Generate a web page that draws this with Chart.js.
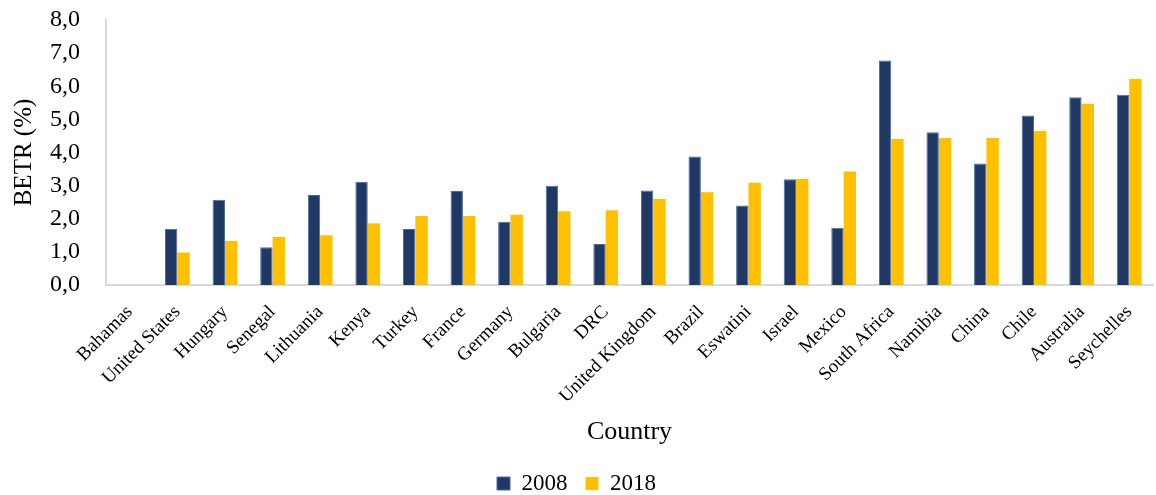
<!DOCTYPE html>
<html lang="en">
<head>
    <meta charset="UTF-8">
    <title>BETR 2008 vs 2018</title>
    <style>
        html, body {
            margin: 0;
            padding: 0;
            background-color: #ffffff;
        }
        .container {
            width: 1156px;
            height: 495px;
        }
    </style>
</head>
<body>
    <div class="container">
        <canvas id="myChart" width="1156" height="495"></canvas>
    </div>

    <script src="https://cdn.jsdelivr.net/npm/chart.js"></script>
    <script>
        var countries = ['Bahamas', 'United States', 'Hungary', 'Senegal', 'Lithuania', 'Kenya', 'Turkey',
            'France', 'Germany', 'Bulgaria', 'DRC', 'United Kingdom', 'Brazil', 'Eswatini', 'Israel',
            'Mexico', 'South Africa', 'Namibia', 'China', 'Chile', 'Australia', 'Seychelles'];
        var betr2008 = [0, 1.70, 2.57, 1.14, 2.72, 3.12, 1.69, 2.84, 1.91, 3.00, 1.24, 2.85, 3.88, 2.40,
            3.19, 1.73, 6.78, 4.61, 3.67, 5.12, 5.67, 5.74];
        var betr2018 = [0, 0.98, 1.33, 1.45, 1.50, 1.86, 2.08, 2.08, 2.12, 2.23, 2.26, 2.60, 2.80, 3.09,
            3.20, 3.43, 4.41, 4.44, 4.44, 4.65, 5.47, 6.22];
        var yTicks = [0, 1, 2, 3, 4, 5, 6, 7, 8];

        var serif = '"Liberation Serif", "Times New Roman", serif';

        document.addEventListener('DOMContentLoaded', function () {
            Chart.defaults.font.family = serif;
            Chart.defaults.color = '#000000';

            var myChart = new Chart(document.getElementById('myChart'), {
                type: 'bar',
                data: {
                    labels: countries,
                    datasets: [{
                        label: '2008',
                        data: betr2008,
                        backgroundColor: '#203864',
                        borderColor: '#4a6aa5',
                        borderWidth: 1
                    }, {
                        label: '2018',
                        data: betr2018,
                        backgroundColor: '#ffc000',
                        borderColor: '#ffd34d',
                        borderWidth: 0
                    }]
                },
                options: {
                    responsive: false,
                    animation: false,
                    layout: {
                        padding: { top: 0, right: 3, left: 0, bottom: -10 }
                    },
                    datasets: {
                        bar: {
                            categoryPercentage: 0.52,
                            barPercentage: 1.0
                        }
                    },
                    plugins: {
                        tooltip: { enabled: false },
                        legend: {
                            position: 'bottom',
                            labels: {
                                font: { size: 23 },
                                boxWidth: 13,
                                boxHeight: 13,
                                padding: 18
                            }
                        }
                    },
                    scales: {
                        x: {
                            grid: { display: false },
                            border: { display: true, color: '#d9d9d9', width: 2 },
                            ticks: {
                                font: { size: 19 },
                                maxRotation: 45,
                                minRotation: 45,
                                autoSkip: false,
                                padding: 8
                            },
                            title: {
                                display: true,
                                text: 'Country',
                                font: { size: 26 },
                                padding: { top: 0, bottom: 6 }
                            },
                            afterFit: function (scale) {
                                scale.height = 169;
                            }
                        },
                        y: {
                            min: 0,
                            max: 8,
                            grid: { display: false },
                            border: { display: true, color: '#d9d9d9', width: 2 },
                            afterBuildTicks: function (scale) {
                                scale.ticks = yTicks.map(function (v) { return { value: v }; });
                            },
                            ticks: {
                                font: { size: 24 },
                                padding: 18,
                                autoSkip: false,
                                callback: function (v) { return Number(v).toFixed(1).replace('.', ','); }
                            },
                            title: {
                                display: true,
                                text: 'BETR (%)',
                                font: { size: 25 },
                                padding: { top: 9, bottom: 0 }
                            },
                            afterFit: function (scale) {
                                scale.width = 106;
                                scale.paddingTop = 20;
                                scale.paddingBottom = 0;
                            }
                        }
                    }
                }
            });
        });
    </script>
</body>
</html>
